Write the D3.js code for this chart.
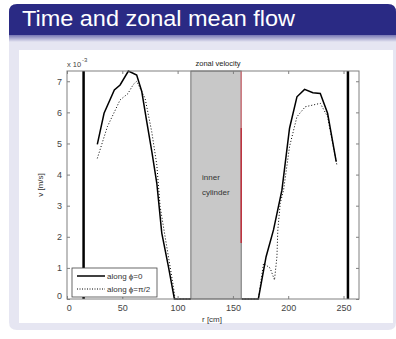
<!DOCTYPE html>
<html><head><meta charset="utf-8">
<script src="https://cdn.jsdelivr.net/npm/d3@7"></script>
<style>body{margin:0;background:#fff;}svg{display:block;font-family:"Liberation Sans",Arial,sans-serif;}</style>
</head><body>
<script>
const title = "Time and zonal mean flow";
const xTicks = [0, 50, 100, 150, 200, 250];
const yTicks = [0, 1, 2, 3, 4, 5, 6, 7];
const seriesNames = ["along \u03D5=0", "along \u03D5=\u03C0/2"];
// r [cm], v [1e-3 m/s]
const solidR = [27.4, 33.5, 42.8, 48, 55.5, 63, 67.6, 72.1, 76.7, 81.2, 85.7, 91.7, 97.1, 112];
const solidV = [4.97, 5.97, 6.72, 6.88, 7.33, 7.2, 6.67, 5.70, 4.74, 3.72, 2.12, 1.04, 0.0, 0.0];
const dotR = [27.4, 36.5, 48, 55, 60, 63, 70.6, 76.6, 81.2, 84.2, 90.2, 96.2, 97.7, 112];
const dotV = [4.52, 5.54, 6.4, 6.6, 6.9, 7.0, 6.45, 5.38, 4.31, 2.97, 1.68, 0.4, 0.0, 0.0];
const solidR2 = [158, 173, 180, 186.7, 194.3, 201.2, 207.9, 214.8, 222.3, 229, 235.6, 243.4];
const solidV2 = [0, 0, 1.36, 2.22, 3.5, 5.49, 6.5, 6.74, 6.63, 6.61, 5.97, 4.42];
const dotR2 = [158, 173, 177.7, 183.7, 187.6, 189.8, 190.6, 192.8, 195.8, 201.2, 207.9, 215.4, 229, 235.6, 244];
const dotV2 = [0, 0, 1.15, 0.99, 0.61, 1.36, 2.22, 3.08, 3.5, 4.9, 5.86, 6.18, 6.29, 5.86, 4.31];
const wallR = [15, 254];
const cylR = [112, 157.5];
const redTopV = 7.33, redBotV = 1.8;

const W = 396, H = 339;
const svg = d3.select("body").append("svg").attr("width", W).attr("height", H);

// slide block
const body = svg.append("g");
body.append("path").attr("d", "M9,34 L396,34 L396,322 Q396,330 388,330 L17,330 Q9,330 9,322 Z").attr("fill", "#e6e6f2");
const defs = svg.append("defs");
const lg = defs.append("linearGradient").attr("id", "g1").attr("x1", 0).attr("x2", 0).attr("y1", 0).attr("y2", 1);
lg.append("stop").attr("offset", "0").attr("stop-color", "#7676b4");
lg.append("stop").attr("offset", "1").attr("stop-color", "#e6e6f2");
body.append("rect").attr("x", 9).attr("y", 35).attr("width", 387).attr("height", 7).attr("fill", "url(#g1)");
body.append("path").attr("d", "M9,35 L9,12 Q9,4 17,4 L388,4 Q396,4 396,12 L396,35 Z").attr("fill", "#2a2a84");
body.append("text").attr("x", 22).attr("y", 26).attr("fill", "#fff").attr("font-size", 22)
  .attr("textLength", 273).attr("lengthAdjust", "spacingAndGlyphs")
  .attr("font-family", "'Liberation Sans',Arial,sans-serif").text(title);
body.append("rect").attr("x", 19).attr("y", 50).attr("width", 374).attr("height", 273).attr("fill", "#fff");

const x = d3.scaleLinear().domain([0, 264]).range([67, 359]);
const y = d3.scaleLinear().domain([0, 7.33]).range([299, 71]);

const plot = svg.append("g");
// inner cylinder
plot.append("rect").attr("x", x(cylR[0])).attr("y", y(7.33)).attr("width", x(cylR[1]) - x(cylR[0]))
  .attr("height", y(0) - y(7.33)).attr("fill", "#c8c8c8").attr("stroke", "#555").attr("stroke-width", 0.8);
plot.append("line").attr("x1", x(cylR[1])).attr("x2", x(cylR[1])).attr("y1", y(redTopV)).attr("y2", y(5.5))
  .attr("stroke", "#d07a80").attr("stroke-width", 1.5);
plot.append("line").attr("x1", x(cylR[1])).attr("x2", x(cylR[1])).attr("y1", y(5.5)).attr("y2", y(redBotV))
  .attr("stroke", "#c0303c").attr("stroke-width", 1.5);
plot.append("text").attr("x", 202).attr("y", 180).attr("font-size", 8).attr("fill", "#333").text("inner");
plot.append("text").attr("x", 202).attr("y", 195).attr("font-size", 8).attr("fill", "#333").text("cylinder");

// walls
wallR.forEach(r => plot.append("line").attr("x1", x(r)).attr("x2", x(r)).attr("y1", y(7.33)).attr("y2", y(0))
  .attr("stroke", "#000").attr("stroke-width", 2.5));

const line = d3.line().x(d => x(d[0])).y(d => y(d[1]));
const zip = (a, b) => a.map((v, i) => [v, b[i]]);
[[solidR, solidV, null], [solidR2, solidV2, null], [dotR, dotV, "1,2"], [dotR2, dotV2, "1,2"]].forEach(([r, v, dash]) => {
  plot.append("path").attr("d", line(zip(r, v))).attr("fill", "none").attr("stroke", "#000")
    .attr("stroke-width", dash ? 1 : 1.5).attr("stroke-dasharray", dash);
});

// axes
const fr = "#808080";
svg.append("rect").attr("x", x(0)).attr("y", y(7.33)).attr("width", x(264) - x(0)).attr("height", y(0) - y(7.33))
  .attr("fill", "none").attr("stroke", fr).attr("stroke-width", 1);
const bx = svg.append("g").attr("transform", `translate(0,${y(0)})`)
  .call(d3.axisBottom(x).tickValues(xTicks).tickSizeInner(-3).tickSizeOuter(0).tickPadding(6));
const tx = svg.append("g").attr("transform", `translate(0,${y(7.33)})`)
  .call(d3.axisTop(x).tickValues(xTicks).tickSizeInner(-3).tickSizeOuter(0).tickFormat(""));
const ly = svg.append("g").attr("transform", `translate(${x(0)},0)`)
  .call(d3.axisLeft(y).tickValues(yTicks).tickSizeInner(-3).tickSizeOuter(0).tickPadding(5));
const ry = svg.append("g").attr("transform", `translate(${x(264)},0)`)
  .call(d3.axisRight(y).tickValues(yTicks).tickSizeInner(-3).tickSizeOuter(0).tickFormat(""));
[bx, tx, ly, ry].forEach(g => {
  g.select(".domain").remove();
  g.selectAll(".tick line").attr("stroke", fr);
  g.selectAll("text").attr("fill", "#444").attr("font-size", 9).attr("font-family", "'Liberation Sans',Arial,sans-serif");
});
ly.selectAll(".tick").filter(d => d === 0).select("text").attr("dy", "-0.1em");
bx.selectAll(".tick").filter(d => d === 0).select("text").attr("dx", "0.2em");

svg.append("text").attr("x", 67).attr("y", 67).attr("font-size", 7.5).attr("fill", "#444").text("x 10");
svg.append("text").attr("x", 82).attr("y", 62).attr("font-size", 6).attr("fill", "#444").text("-3");
svg.append("text").attr("x", 218).attr("y", 66).attr("text-anchor", "middle").attr("font-size", 7.5).attr("fill", "#222").text("zonal velocity");
svg.append("text").attr("x", 212).attr("y", 322).attr("text-anchor", "middle").attr("font-size", 8).attr("fill", "#333").text("r [cm]");
svg.append("text").attr("transform", "translate(43,185) rotate(-90)").attr("text-anchor", "middle").attr("font-size", 8).attr("fill", "#333").text("v [m/s]");

// legend
const leg = svg.append("g");
leg.append("rect").attr("x", 72).attr("y", 268).attr("width", 85).attr("height", 29).attr("fill", "#fff").attr("stroke", "#444").attr("stroke-width", 0.8);
seriesNames.forEach((n, i) => {
  const yy = 276 + i * 13;
  leg.append("line").attr("x1", 77).attr("x2", 105).attr("y1", yy).attr("y2", yy).attr("stroke", "#000")
    .attr("stroke-width", i ? 1 : 1.5).attr("stroke-dasharray", i ? "1,1.5" : null);
  leg.append("text").attr("x", 107).attr("y", yy + 3).attr("font-size", 8).attr("fill", "#333").text(n);
});
</script>
</body></html>
